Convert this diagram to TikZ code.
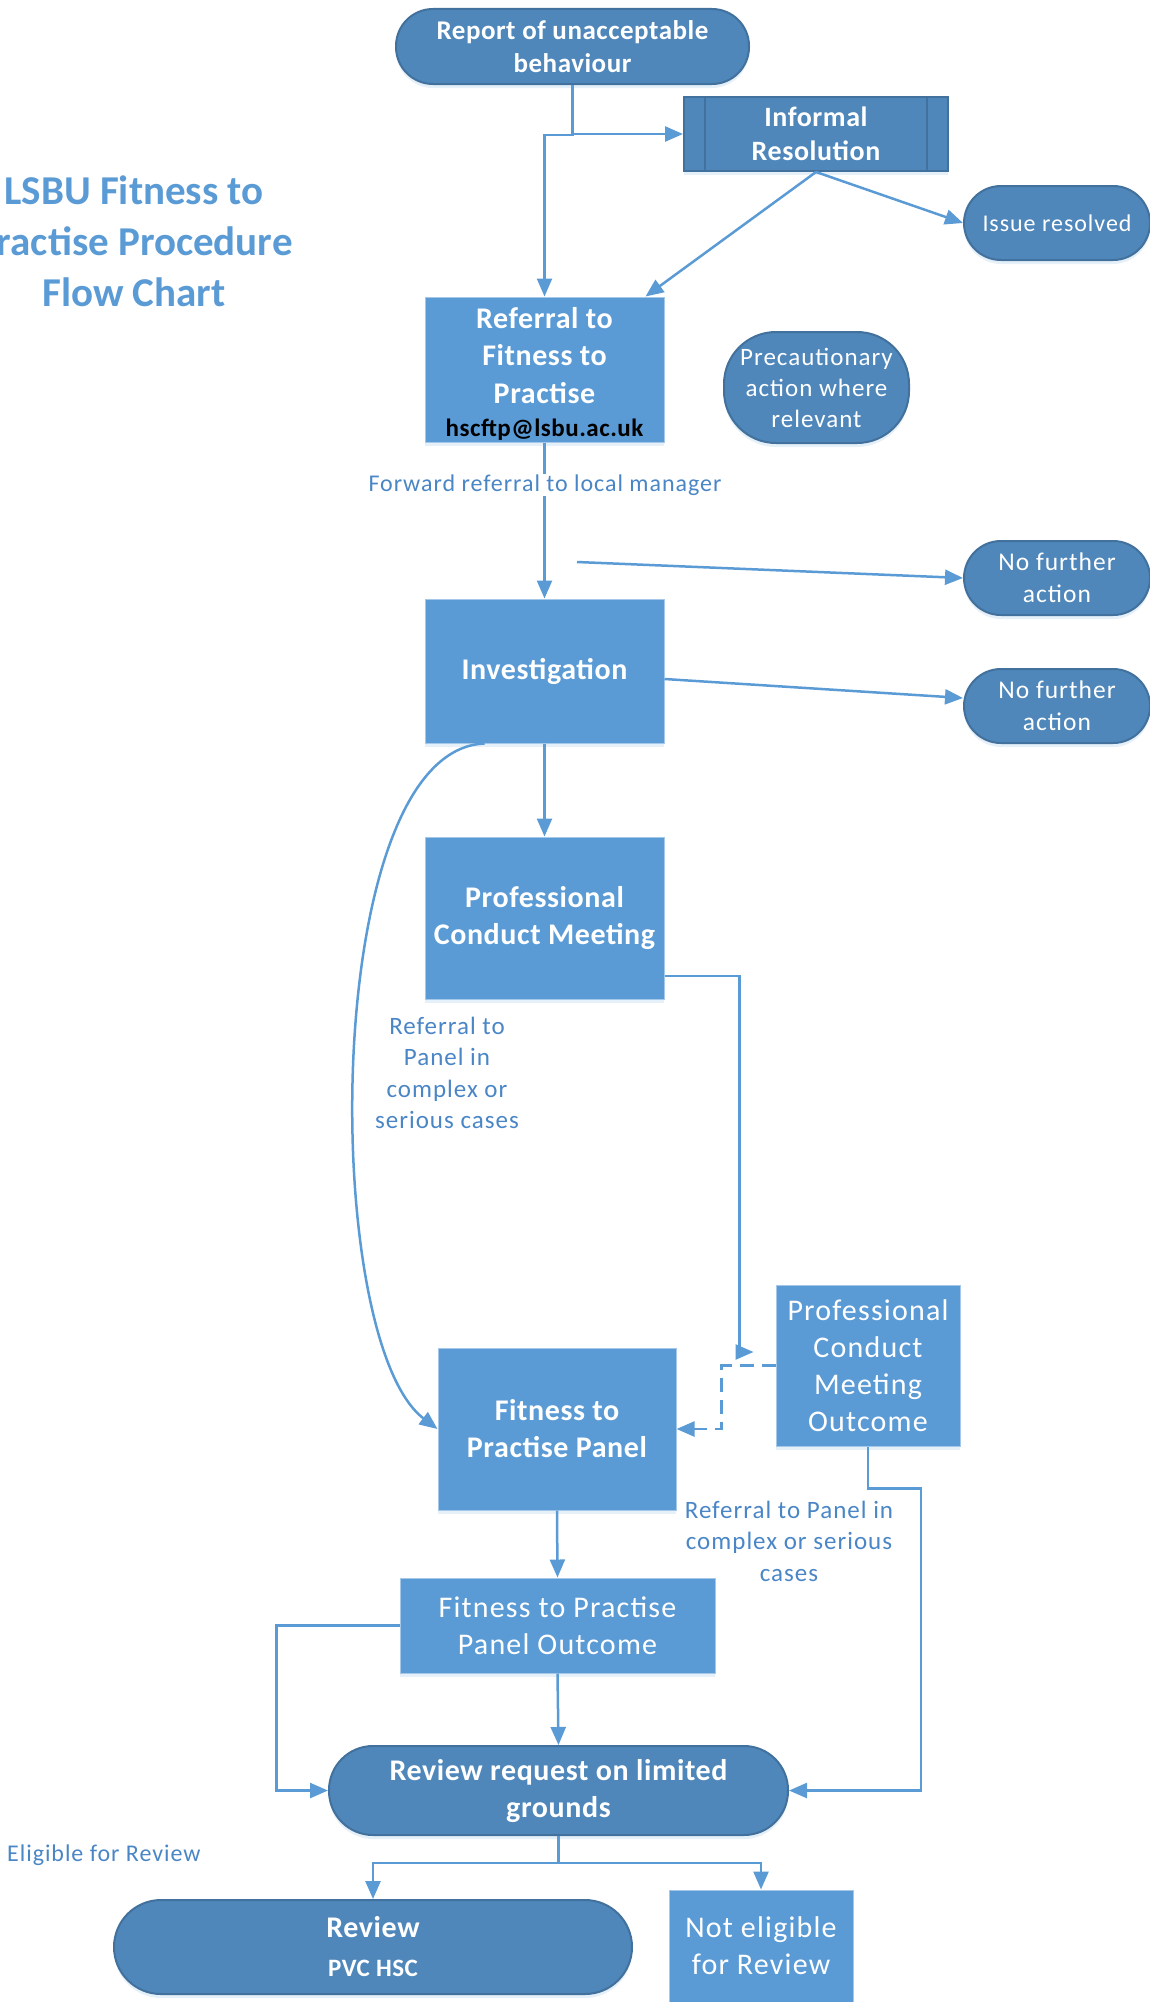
\documentclass[tikz,border=0pt]{standalone}
\usepackage{fontspec}
\setmainfont{Carlito}[LetterSpace=4.0, BoldFeatures={LetterSpace=2.0}]
\newfontfamily\titlefont{Carlito}
\usetikzlibrary{arrows.meta,positioning,shadows}
\definecolor{boxblue}{HTML}{5B9BD5}
\definecolor{termblue}{HTML}{4F87BB}
\definecolor{termedge}{HTML}{41719C}
\definecolor{labelblue}{HTML}{4A86C6}
\tikzset{
  procbox/.style={rectangle, fill=boxblue, draw=boxblue!55!white, line width=1pt, text=white, align=center, inner sep=0pt,
    drop shadow={shadow xshift=0pt, shadow yshift=-4pt, opacity=.25, fill=boxblue!60}},
  termbox/.style={rectangle, fill=termblue, draw=termedge, line width=2pt, text=white, align=center, inner sep=0pt,
    drop shadow={shadow xshift=0pt, shadow yshift=-4pt, opacity=.25, fill=boxblue!60}},
  arr/.style={draw=boxblue, line width=2.5pt, -{Triangle[length=18pt,width=15pt]}},
  lbl/.style={text=labelblue, align=center, inner sep=1pt, font=\fontsize{25}{31.5}\selectfont},
}
\begin{document}
\begin{tikzpicture}[x=1pt,y=-1pt]
  \useasboundingbox (0,0) rectangle (1150,2002);

  \node[text=boxblue, align=center, font=\titlefont\fontsize{41}{51}\selectfont\bfseries] (title) at (134,241)
    {LSBU Fitness to\\Practise Procedure\\Flow Chart};

  \node[termbox, minimum width=353, minimum height=75, rounded corners=37pt, font=\fontsize{27}{33}\selectfont\bfseries]
    (report) at (572.5,46.5) {Report of unacceptable\\behaviour};
  \node[termbox, rounded corners=0pt, minimum width=264, minimum height=74, font=\fontsize{28}{34}\selectfont\bfseries]
    (informal) at (816,134) {Informal\\Resolution};
  \draw[termedge, line width=2pt]
    ([xshift=22pt]informal.north west) -- ([xshift=22pt]informal.south west)
    ([xshift=-22pt]informal.north east) -- ([xshift=-22pt]informal.south east);
  \node[termbox, minimum width=186, minimum height=74, rounded corners=37pt, font=\fontsize{24}{30}\selectfont]
    (resolved) at (1057,223) {Issue resolved};

  \node[procbox, minimum width=239, minimum height=145, font=\fontsize{30}{37.5}\selectfont\bfseries] (referral) at (544.5,369.5)
    {\rule{0pt}{30pt}Referral to\\Fitness to\\Practise\\[-4pt]\fontsize{25}{30}\selectfont\color{black}hscftp@lsbu.ac.uk};
  \node[termbox, minimum width=185, minimum height=111, rounded corners=52pt, font=\fontsize{25}{31}\selectfont]
    (precaution) at (816.5,387.5) {Precautionary\\action where\\relevant};

  \node[procbox, minimum width=239, minimum height=144, font=\fontsize{30}{37}\selectfont\bfseries]
    (investigation) at (544.5,671) {Investigation};
  \node[termbox, minimum width=186, minimum height=74, rounded corners=37pt, font=\fontsize{25.5}{32}\selectfont]
    (nfaA) at (1057,578) {No further\\action};
  \node[termbox, minimum width=186, minimum height=74, rounded corners=37pt, font=\fontsize{25.5}{32}\selectfont]
    (nfaB) at (1057,706) {No further\\action};

  \node[procbox, minimum width=239, minimum height=162, font=\fontsize{30}{37}\selectfont\bfseries]
    (pcm) at (544.5,918) {Professional\\Conduct Meeting};
  \node[procbox, minimum width=184, minimum height=161, font=\fontsize{30}{37}\selectfont]
    (pcmo) at (868,1365.5) {Professional\\Conduct\\Meeting\\Outcome};
  \node[procbox, minimum width=238, minimum height=162, font=\fontsize{30}{37}\selectfont\bfseries]
    (ftp) at (557,1429) {Fitness to\\Practise Panel};
  \node[procbox, minimum width=315, minimum height=95, font=\fontsize{30}{37}\selectfont]
    (ftpo) at (557.5,1625.5) {Fitness to Practise\\Panel Outcome};

  \node[termbox, minimum width=459, minimum height=89, rounded corners=44pt, font=\fontsize{30}{37}\selectfont\bfseries]
    (request) at (558.5,1790.5) {Review request on limited\\grounds};
  \node[termbox, minimum width=518, minimum height=94, rounded corners=47pt, font=\fontsize{30}{37}\selectfont\bfseries]
    (review) at (373,1947) {Review\\[2pt]\fontsize{25}{28}\selectfont PVC HSC};
  \node[procbox, minimum width=184, minimum height=112, font=\fontsize{30}{37}\selectfont]
    (noteligible) at (761,1946) {Not eligible\\for Review};

  % connectors
  \draw[arr] (report.south) |- (informal.west);
  \draw[arr] (report.south) -- ++(0,50) -| (referral.north);
  \draw[arr] (informal.south) -- ([xshift=-19pt]referral.north east);
  \draw[arr] (informal.south) -- (resolved.west);
  \draw[arr] (referral.south) -- (investigation.north);
  \node[lbl, fill=white, font=\fontsize{24}{30}\selectfont] (forward) at (545,485) {Forward referral to local manager};
  \coordinate (nfastart) at (577,562);
  \draw[arr] (nfastart) -- (nfaA.west);
  \draw[arr] ([yshift=-8pt]investigation.east) -- ([yshift=8pt]nfaB.west);
  \draw[arr] (investigation.south) -- (pcm.north);
  \draw[arr] ([xshift=-60pt]investigation.south) .. controls (320,750) and (320,1340) .. (ftp.west);
  \node[lbl] (seriousA) at (447,1073) {Referral to\\Panel in\\complex or\\serious cases};
  \draw[arr, shorten >=22pt] ([yshift=-58pt]pcm.east) -- ++(75,0) |- ([yshift=13.5pt]pcmo.west);
  \draw[arr, dash pattern=on 14pt off 8pt] (pcmo.west) -- ++(-54,0) |- (ftp.east);
  \node[lbl] (seriousB) at (789,1541) {Referral to Panel in\\complex or serious\\cases};
  \draw[arr] (ftp.south) -- (ftpo.north);
  \draw[arr] (ftpo.south) -- (request.north);
  \draw[arr] (ftpo.west) -- ++(-123,0) |- (request.west);
  \draw[arr] (pcmo.south) -- ++(0,42) -| ([xshift=132pt]request.east) -- (request.east);
  \draw[arr] (request.south) -- ++(0,27) -| (review.north);
  \draw[arr] (request.south) -- ++(0,27) -| (noteligible.north);
  \node[lbl, anchor=west, font=\fontsize{24}{30}\selectfont] (eligible) at (6,1855) {Eligible for Review};
\end{tikzpicture}
\end{document}
